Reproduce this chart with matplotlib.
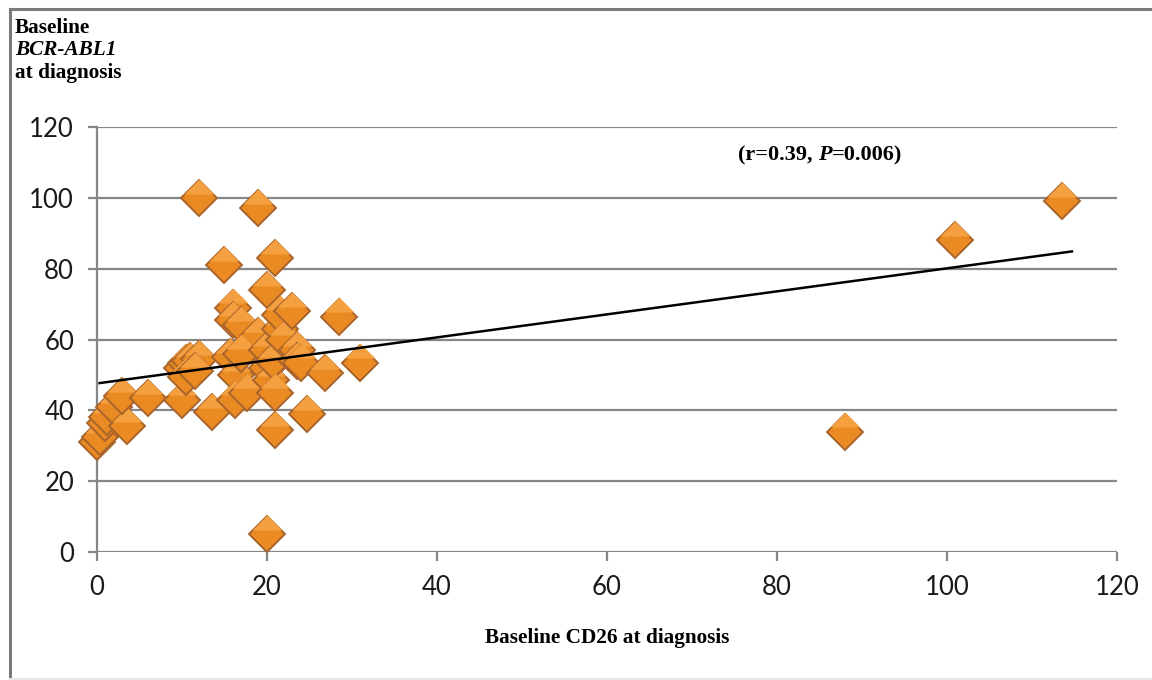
import numpy as np
import matplotlib
matplotlib.use("Agg")
import matplotlib.pyplot as plt
from matplotlib.lines import Line2D

# Baseline CD26 (x) vs baseline BCR-ABL1 (y)
cd26 = [0, 0.3, 1, 1.2, 2, 3.5, 3, 6, 10, 10, 10.5, 11, 12, 10.5, 11.5,
        12, 13.5, 15, 16, 16, 17, 15.6, 16.4, 16.2, 17.6, 18, 19, 17,
        19, 20, 20, 20, 20, 20.5, 20.7, 21, 21, 21, 21.5, 21.5, 22,
        23, 23.5, 23.5, 24, 24.7, 26.8, 28.5, 31, 88, 101, 113.5]
bcr_abl1 = [31, 32.5, 36.5, 38, 41, 35.5, 44, 43.5, 43, 52, 53.5, 54, 54.5, 49.5, 51,
            100, 39.5, 81, 69, 65.5, 64, 55, 50, 43, 45, 58.5, 61, 56,
            97, 74, 5, 57, 52, 48.5, 54, 45, 34.5, 83, 63, 67, 60,
            68, 57, 54, 53.5, 39, 50.5, 66.5, 53.5, 34, 88, 99]

# linear trendline
trend_intercept = 47.6
trend_slope = 0.325

x_ticks = [0, 20, 40, 60, 80, 100, 120]
y_ticks = [0, 20, 40, 60, 80, 100, 120]

grid_col = "#878787"
serif = ["Liberation Serif", "DejaVu Serif"]

fig = plt.figure(figsize=(11.52, 6.8), dpi=100)
ax = fig.add_axes([0.0842, 0.1882, 0.8854, 0.625])

ax.set_xlim(0, 120)
ax.set_ylim(0, 120)
ax.set_xticks(x_ticks)
ax.set_yticks(y_ticks)
for s in ["top", "right", "bottom"]:
    ax.spines[s].set_visible(False)
ax.spines["left"].set_color(grid_col)
ax.spines["left"].set_linewidth(1.6)
ax.yaxis.grid(True, color=grid_col, linewidth=1.6)
ax.set_axisbelow(True)
ax.tick_params(axis="both", length=6.5, width=1.6, color=grid_col,
               labelsize=18.5, labelcolor="#1a1a1a", pad=10,
               labelfontfamily="Lato")

# two-tone diamonds to mimic the bevelled marker
top_half = [(-1, 0), (0, 1), (1, 0), (-1, 0)]
for xv, yv in zip(cd26, bcr_abl1):
    ax.plot(xv, yv, marker="D", ms=18, mfc="#EA8A22", mec="#A8642C",
            mew=1.4, ls="none", clip_on=False, zorder=3)
    ax.plot(xv, yv + 1.2, marker=top_half, ms=21.5, mfc="#F4A040", mec="none",
            ls="none", clip_on=False, zorder=3)

xl = np.array([min(cd26) + 0.3, max(cd26) + 1.2])
ax.plot(xl, trend_intercept + trend_slope * xl, color="black", lw=1.8, zorder=4)

# annotation: (r=0.39, P=0.006) with italic P
fs_ann = 16
t1 = ax.text(75.4, 112, "(r=0.39, ", fontsize=fs_ann, fontweight="bold",
             family=serif, va="center", ha="left")
t2 = ax.annotate("P", xy=(1, 0), xycoords=t1, va="bottom", ha="left",
                 fontsize=fs_ann, fontweight="bold", fontstyle="italic", family=serif)
ax.annotate("=0.006)", xy=(1, 0), xycoords=t2, va="bottom", ha="left",
            fontsize=fs_ann, fontweight="bold", family=serif)

# y label block at top-left
fs_lab = 15.3
fig.text(15 / 1152, 1 - 28 / 680, "Baseline", fontsize=fs_lab, fontweight="bold",
         family=serif, va="center", ha="left")
fig.text(15 / 1152, 1 - 50 / 680, "BCR-ABL1", fontsize=fs_lab, fontweight="bold",
         fontstyle="italic", family=serif, va="center", ha="left")
fig.text(15 / 1152, 1 - 73 / 680, "at diagnosis", fontsize=fs_lab, fontweight="bold",
         family=serif, va="center", ha="left")

# x label
fig.text(607 / 1152, 1 - 638 / 680, "Baseline CD26 at diagnosis", fontsize=fs_lab,
         fontweight="bold", family=serif, va="center", ha="center")

# outer frame (left and top drawn dark, bottom faint)
fig.add_artist(Line2D([10 / 1152, 10 / 1152], [0, 1 - 9 / 680],
                      transform=fig.transFigure, color="#7a7a7a", lw=2.2))
fig.add_artist(Line2D([10 / 1152, 1], [1 - 9 / 680, 1 - 9 / 680],
                      transform=fig.transFigure, color="#7a7a7a", lw=2.2))
fig.add_artist(Line2D([10 / 1152, 1], [1.5 / 680, 1.5 / 680],
                      transform=fig.transFigure, color="#e6e6e6", lw=1.5))

fig.savefig("out.png", dpi=100)
